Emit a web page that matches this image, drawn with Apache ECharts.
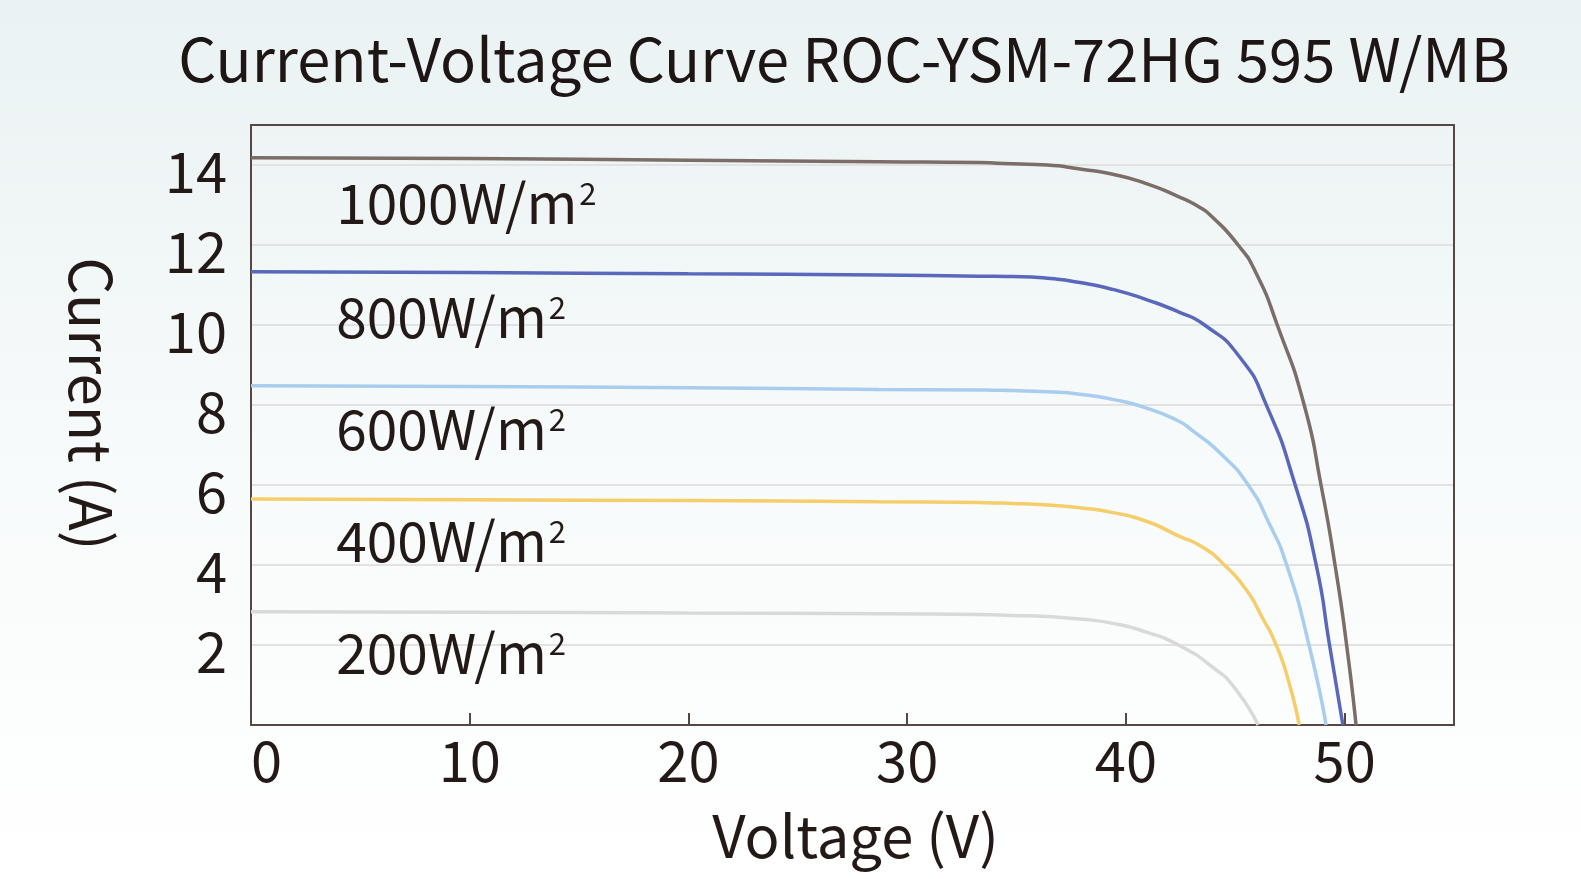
<!DOCTYPE html>
<html>
<head>
<meta charset="utf-8">
<script src="https://cdn.jsdelivr.net/npm/echarts@6/dist/echarts.min.js"></script>
<style>
html,body{margin:0;padding:0;width:1581px;height:879px;overflow:hidden;background:#fff;}
#chart{width:1581px;height:879px;}
</style>
</head>
<body>
<div id="chart"></div>
<script>
// ---- data ----
const titleText = 'Current-Voltage Curve ROC-YSM-72HG 595 W/MB';
const seriesNames = ['1000W/m²', '800W/m²', '600W/m²', '400W/m²', '200W/m²'];

const v1000 = [0, 10, 20, 28.7, 33.3, 34.8, 36.4, 37.9, 39.4, 40.9, 42.4, 43.35, 43.95, 45.13, 45.95, 46.92, 48.15, 48.92, 49.56, 50.09, 50.52];
const i1000 = [14.18, 14.16, 14.12, 14.08, 14.06, 14.03, 14.0, 13.9, 13.77, 13.54, 13.21, 12.95, 12.7, 12.0, 11.3, 10.0, 8.0, 6.0, 4.0, 2.0, 0];

const v800 = [0, 10, 20, 28.7, 33.3, 34.8, 36.4, 37.9, 39.4, 40.9, 42.4, 43.6, 45.2, 46.42, 47.74, 48.7, 49.31, 49.92];
const i800 = [11.33, 11.31, 11.28, 11.25, 11.22, 11.21, 11.17, 11.06, 10.89, 10.64, 10.33, 10.0, 9.2, 8.0, 6.0, 4.0, 2.0, 0];

const v600 = [0, 10, 20, 28.7, 33.3, 34.8, 36.4, 37.9, 39.4, 40.9, 42.4, 43.0, 44.4, 45.59, 46.54, 47.35, 48.37, 49.15];
const i600 = [8.48, 8.46, 8.43, 8.39, 8.375, 8.36, 8.33, 8.27, 8.14, 7.93, 7.6, 7.38, 6.75, 6.0, 5.05, 4.0, 2.0, 0];

const v400 = [0, 10, 20, 28.7, 33.3, 34.8, 36.4, 37.9, 39.4, 40.9, 42.4, 43.49, 44.5, 45.5, 46.22, 46.87, 47.46, 47.92];
const i400 = [5.65, 5.63, 5.61, 5.58, 5.56, 5.54, 5.5, 5.43, 5.31, 5.1, 4.73, 4.45, 4.0, 3.38, 2.7, 2.0, 1.05, 0];

const v200 = [0, 10, 20, 28.7, 33.3, 34.8, 36.4, 37.9, 39.4, 40.9, 42.4, 43.95, 45.04, 46.04];
const i200 = [2.83, 2.82, 2.8, 2.78, 2.76, 2.74, 2.71, 2.65, 2.54, 2.33, 2.0, 1.45, 0.88, 0];

// label anchor positions (data coords)
const labelV = [3.9, 3.9, 3.9, 3.9, 3.9];
const labelI = [13.05, 10.2, 7.4, 4.6, 1.8];

const xTicks = [0, 10, 20, 30, 40, 50];
const yTicks = [2, 4, 6, 8, 10, 12, 14];

// ---- styling ----
const colors = ['#7b6d67', '#5a68bb', '#a9cdee', '#f5cd6a', '#d9d9d9'];
const ink = '#231a17';
const frame = '#544744';
const font = '"Noto Sans CJK SC", "Source Sans Pro", "Noto Sans", sans-serif';

function zip(v, i) { return v.map((x, k) => [x, i[k]]); }
const curves = [zip(v1000, i1000), zip(v800, i800), zip(v600, i600), zip(v400, i400), zip(v200, i200)];

const chart = echarts.init(document.getElementById('chart'));

const series = curves.map((d, k) => ({
  name: seriesNames[k],
  type: 'line',
  data: d,
  smooth: 0.6,
  showSymbol: false,
  symbol: 'none',
  clip: true,
  lineStyle: { color: colors[k], width: 3.5 },
  z: 10 - k
}));

series.push({
  type: 'scatter',
  name: 'labels',
  symbolSize: 0,
  itemStyle: { opacity: 1 },
  data: labelV.map((x, k) => ({ value: [x, labelI[k]], name: seriesNames[k] })),
  label: {
    show: true,
    position: 'right',
    distance: 0,
    opacity: 1,
    formatter: p => '{t|' + p.name.replace('²', '') + '}{s|2}',
    rich: {
      t: { color: ink, fontFamily: font, fontSize: 55 },
      s: { color: ink, fontFamily: font, fontSize: 31, verticalAlign: 'top', padding: [2, 0, 0, 2] }
    }
  },
  silent: true,
  z: 20
});

chart.setOption({
  backgroundColor: new echarts.graphic.LinearGradient(0, 0, 0, 1, [
    { offset: 0, color: '#eaf2f3' },
    { offset: 0.55, color: '#f8fbfb' },
    { offset: 1, color: '#ffffff' }
  ]),
  animation: false,
  title: {
    text: titleText,
    left: 839,
    top: 25,
    textAlign: 'center',
    textStyle: { fontFamily: font, fontSize: 59.6, fontWeight: 'normal', color: '#1d1614' }
  },
  grid: {
    left: 251, right: 127, top: 125, bottom: 154,
    show: false
  },
  xAxis: [{
    type: 'value',
    min: 0, max: 55, interval: 10,
    name: 'Voltage (V)',
    nameLocation: 'middle',
    nameGap: 82,
    nameTextStyle: { fontFamily: font, fontSize: 58, color: ink, padding: [0, 0, 0, 6] },
    axisLine: { show: true, lineStyle: { color: frame, width: 2 } },
    axisTick: { show: true, inside: true, length: 12, lineStyle: { color: frame, width: 2 } },
    splitLine: { show: false },
    axisLabel: {
      fontFamily: font, fontSize: 56, color: ink, margin: 8,
      alignMinLabel: 'left',
      formatter: v => xTicks.indexOf(v) >= 0 ? String(v) : ''
    },
    z: 5
  }, {
    type: 'value', position: 'top',
    min: 0, max: 55,
    axisLine: { show: true, onZero: false, lineStyle: { color: frame, width: 2 } },
    axisTick: { show: false }, axisLabel: { show: false }, splitLine: { show: false },
    z: 5
  }],
  yAxis: [{
    type: 'value',
    min: 0, max: 15, interval: 2,
    axisLine: { show: true, lineStyle: { color: frame, width: 2 } },
    axisTick: { show: false },
    splitLine: { show: true, lineStyle: { color: '#e2e2e2', width: 2 } },
    axisLabel: {
      margin: 24,
      formatter: v => yTicks.indexOf(v) >= 0 ? '{a|' + v + '}' : '',
      rich: {
        a: { fontFamily: font, fontSize: 56, color: ink, padding: [13, 0, 0, 0] }
      }
    },
    z: 5
  }, {
    type: 'value', position: 'right',
    min: 0, max: 15,
    axisLine: { show: true, onZero: false, lineStyle: { color: frame, width: 2 } },
    axisTick: { show: false }, axisLabel: { show: false }, splitLine: { show: false },
    z: 5
  }],
  graphic: [{
    type: 'text',
    x: 91, y: 404,
    rotation: -Math.PI / 2,
    style: {
      text: 'Current (A)',
      fontFamily: font, fontSize: 58, fill: ink,
      align: 'center', verticalAlign: 'middle'
    }
  }],
  series: series
});
</script>
</body>
</html>
